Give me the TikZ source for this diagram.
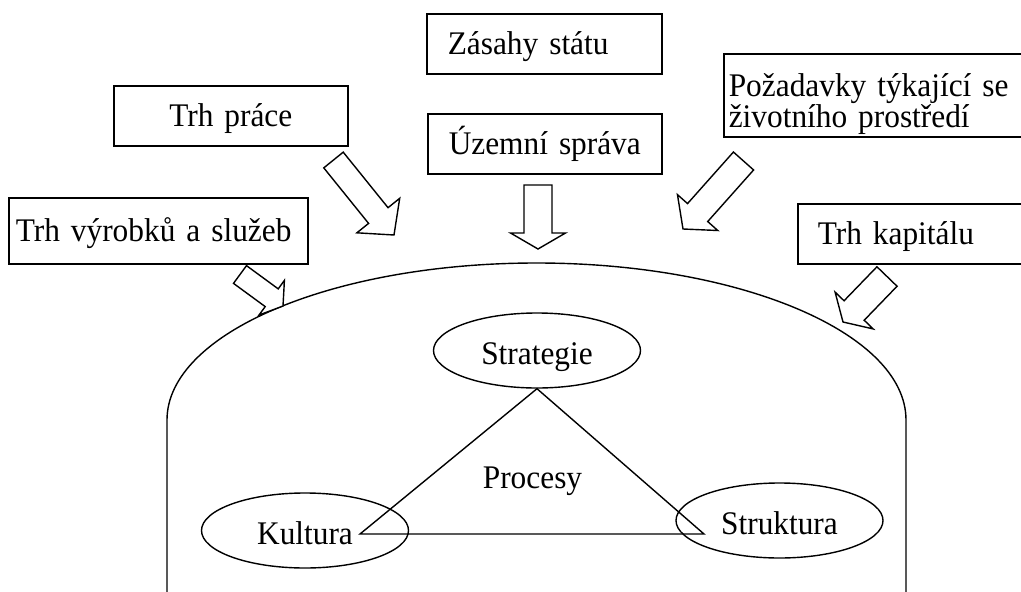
\documentclass[tikz,border=0pt]{standalone}
\usepackage{fontspec}
\setmainfont{Liberation Serif}[FakeStretch=0.95]
\usetikzlibrary{calc,shapes.geometric}

% outlined block arrow: tail, tip, half shaft width, half head width, head length
\newcommand\blockarrow[5]{%
  \coordinate (ba-h) at ($(#2)!#5!(#1)$);
  \draw[fatarrow] ($(#1)!#3!90:(#2)$) -- ($(ba-h)!#3!90:(#2)$)
    -- ($(ba-h)!#4!90:(#2)$) -- (#2) -- ($(ba-h)!#4!-90:(#2)$)
    -- ($(ba-h)!#3!-90:(#2)$) -- ($(#1)!#3!-90:(#2)$) -- cycle;}

\tikzset{
  txt/.style={font=\fontsize{33pt}{38pt}\selectfont},
  panel/.style={txt, draw, line width=1.6pt, rectangle, anchor=north west,
    inner ysep=0pt, text height=22pt, text depth=0pt},
  cell/.style={txt, draw, ellipse, line width=1.4pt, minimum width=207pt,
    minimum height=75pt, inner sep=0pt, text height=28pt, text depth=0pt},
  edge/.style={line width=1.4pt, line join=miter},
  fatarrow/.style={draw, fill=white, line width=1.4pt, line join=miter},
}

\begin{document}
\begin{tikzpicture}[x=1pt, y=-1pt]
\useasboundingbox (0,0) rectangle (1021,592);

% the firm: rounded dome with straight walls
\draw[edge] (167,600) -- (167,420)
  arc[start angle=180, end angle=0, x radius=369.5pt, y radius=157pt]
  -- (906,600);

% surrounding influences
\node[panel, align=left, inner xsep=21pt, text width=193pt, minimum height=60pt]
  (state) at (426,13) {Zásahy státu};
\node[panel, align=center, inner xsep=20pt, text width=194pt, minimum height=60pt]
  (labour) at (113,85) {Trh práce};
\node[panel, align=center, inner xsep=12pt, text width=210pt, minimum height=60pt]
  (region) at (427,113) {Územní správa};
\node[panel, align=left, inner xsep=7pt, text width=285pt, minimum height=66pt]
  (goods) at (8,197) {Trh výrobků a služeb};
\node[panel, align=left, inner xsep=5pt, text width=300pt, minimum height=83pt,
  text depth=20pt, font=\fontsize{33pt}{27pt}\selectfont]
  (env) at (723,53) {Požadavky týkající se\\životního prostředí};
\node[panel, align=left, inner xsep=20pt, text width=200pt, minimum height=60pt]
  (capital) at (797,203) {Trh kapitálu};

% arrow ends
\coordinate (labourTail) at (333.5,160);   \coordinate (labourTip) at (394,235);
\coordinate (regionTail) at (538,185);     \coordinate (regionTip) at (538,249);
\coordinate (envTail) at (743.5,161);      \coordinate (envTip) at (683,229);
\coordinate (capitalTail) at (887,276.5);  \coordinate (capitalTip) at (843,322);
\coordinate (goodsTail) at (240,274.5);    \coordinate (goodsTip) at (283,306);

\blockarrow{labourTail}{labourTip}{12.5pt}{27.5pt}{25pt}
\blockarrow{regionTail}{regionTip}{14pt}{27.5pt}{16pt}
\blockarrow{envTail}{envTip}{13.5pt}{27pt}{22pt}
\blockarrow{capitalTail}{capitalTip}{14pt}{26.5pt}{16pt}
\blockarrow{goodsTail}{goodsTip}{11pt}{21.5pt}{14pt}

% inner triangle of strategy, culture and structure
\node[cell] (strat) at (537,350.5) {Strategie};
\node[cell] (kult) at (305,530.5) {Kultura};
\node[cell] (struk) at (779.5,520.5) {Struktura};
\coordinate (kultV) at (360,534);
\coordinate (strukV) at (704,534);
\draw[edge] (strat.south) -- (kultV) -- (strukV) -- cycle;
\node[txt, inner sep=0pt, text height=22pt, text depth=0pt] (proc) at (532.5,477) {Procesy};
\end{tikzpicture}
\end{document}
